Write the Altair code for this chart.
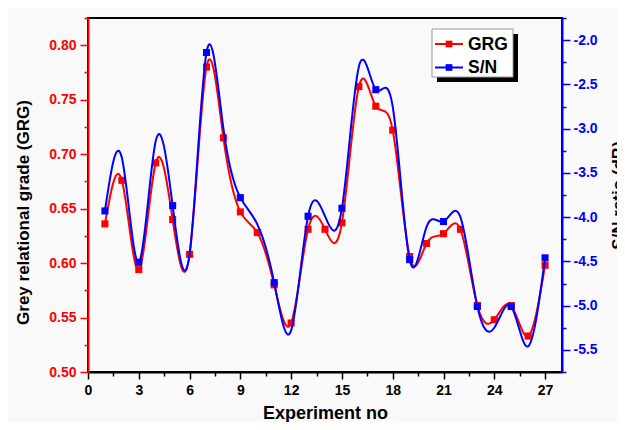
import altair as alt
import pandas as pd

experiment = list(range(1, 28))
grg = [0.636, 0.676, 0.594, 0.692, 0.640, 0.608, 0.780, 0.715, 0.647, 0.628,
       0.580, 0.545, 0.631, 0.631, 0.637, 0.762, 0.744, 0.722, 0.606, 0.618,
       0.627, 0.631, 0.561, 0.548, 0.561, 0.533, 0.598]
sn = [-3.93, -3.33, -4.51, -3.14, -3.87, -4.42, -2.14, -3.00, -3.78, -4.08,
      -4.74, -5.28, -3.99, -3.99, -3.90, -2.30, -2.56, -2.75, -4.48, -4.11,
      -4.05, -4.00, -5.01, -5.25, -5.01, -5.46, -4.46]
sn_marker = [e % 2 == 1 for e in experiment]

x_ticks = [i * 1.5 for i in range(19)]
grg_ticks = [round(0.5 + 0.025 * i, 3) for i in range(14)]
sn_ticks = [round(-5.75 + 0.25 * i, 2) for i in range(17)]

df = pd.DataFrame({"Experiment": experiment, "GRG": grg, "SN": sn, "SNMarker": sn_marker})

FONT = "Liberation Sans"

x_enc = alt.X(
    "Experiment:Q",
    scale=alt.Scale(domain=[0, 28], nice=False, zero=False),
    axis=alt.Axis(
        values=x_ticks,
        labelExpr="datum.value % 3 === 0 ? datum.value : ''",
        tickSize={"condition": {"test": "datum.value % 3 === 0", "value": 7}, "value": 4},
        grid=False, domainColor="black", domainWidth=2, tickColor="black", tickWidth=1.5,
        labelFont=FONT, labelFontWeight="bold", labelFontSize=14, labelColor="black",
        labelPadding=4, labelFlush=False,
        title="Experiment no", titleFont=FONT, titleFontWeight="bold", titleFontSize=18,
        titleColor="black", titleBaseline="alphabetic", titleY=46, zindex=1,
    ),
)

grg_test = "abs(datum.value*20 - round(datum.value*20)) < 0.01"
y_left = alt.Y(
    "GRG:Q",
    scale=alt.Scale(domain=[0.5, 0.825], nice=False, zero=False),
    axis=alt.Axis(
        orient="left", values=grg_ticks,
        labelExpr=grg_test + " ? format(datum.value, '.2f') : ''",
        tickSize={"condition": {"test": grg_test, "value": 8}, "value": 4},
        grid=False, domainColor="red", domainWidth=2, tickColor="red", tickWidth=1.5,
        labelFont=FONT, labelFontWeight="bold", labelFontSize=14, labelColor="red",
        labelPadding=4,
        title="Grey relational grade (GRG)", titleFont=FONT, titleFontWeight="bold",
        titleFontSize=17, titleColor="black", titleAngle=270, titleAlign="center",
        titleBaseline="alphabetic", titleX=-60, titleY=194, zindex=1,
    ),
)

sn_test = "abs(datum.value*2 - round(datum.value*2)) < 0.01"
y_right = alt.Y(
    "SN:Q",
    scale=alt.Scale(domain=[-5.75, -1.75], nice=False, zero=False),
    axis=alt.Axis(
        orient="right", values=sn_ticks,
        labelExpr=sn_test + " ? (datum.value < 0 ? '-' : '') + format(abs(datum.value), '.1f') : ''",
        tickSize={"condition": {"test": sn_test, "value": 8}, "value": 4},
        grid=False, domainColor="blue", domainWidth=2, tickColor="blue", tickWidth=1.5,
        labelFont=FONT, labelFontWeight="bold", labelFontSize=14, labelColor="blue",
        labelPadding=3,
        title="S/N ratio (dB)", titleFont=FONT, titleFontWeight="bold",
        titleFontSize=17, titleColor="black", titleAngle=270, titleAlign="center",
        titleBaseline="alphabetic", titleX=61, titleY=177, zindex=1,
    ),
)

base = alt.Chart(df)

grg_line = base.mark_line(color="red", strokeWidth=2, interpolate="natural").encode(x=x_enc, y=y_left)
grg_pts = base.mark_point(shape="square", filled=True, color="red", size=50, opacity=1).encode(x=x_enc, y=y_left)
sn_line = base.mark_line(color="blue", strokeWidth=2, interpolate="natural").encode(x=x_enc, y=y_right)
sn_pts = base.transform_filter("datum.SNMarker").mark_point(
    shape="square", filled=True, color="blue", size=50, opacity=1).encode(x=x_enc, y=y_right)

# legend box (decoration)
leg = alt.Chart(pd.DataFrame({"k": [0]}))
shadow = leg.mark_rect(color="black").encode(
    x=alt.value(349), x2=alt.value(430), y=alt.value(16), y2=alt.value(64))
box = leg.mark_rect(fill="white", stroke="#999999", strokeWidth=1).encode(
    x=alt.value(344), x2=alt.value(425), y=alt.value(11), y2=alt.value(59))
legend_items = []
for label, color, yy in [("GRG", "red", 26), ("S/N", "blue", 49.5)]:
    legend_items.append(leg.mark_rule(color=color, strokeWidth=2).encode(
        x=alt.value(347), x2=alt.value(375), y=alt.value(yy)))
    legend_items.append(leg.mark_point(shape="square", filled=True, color=color, size=45, opacity=1).encode(
        x=alt.value(361), y=alt.value(yy)))
    legend_items.append(leg.mark_text(text=label, align="left", baseline="middle", font=FONT,
                                      fontWeight="bold", fontSize=17.5, color="black").encode(
        x=alt.value(380), y=alt.value(yy + 0.5)))

chart = alt.layer(
    alt.layer(grg_line, grg_pts),
    alt.layer(sn_line, sn_pts),
    shadow, box, *legend_items,
).resolve_scale(y="independent").properties(
    width=474, height=354,
    padding={"left": 80, "top": 10, "right": 55, "bottom": 50},
    autosize=alt.AutoSizeParams(type="none"),
    background="#f9f9f9",
).configure_view(stroke="black", strokeWidth=2, fill="#f9f9f9")

chart.save("out.html", embed_options={"renderer": "svg", "actions": False})
